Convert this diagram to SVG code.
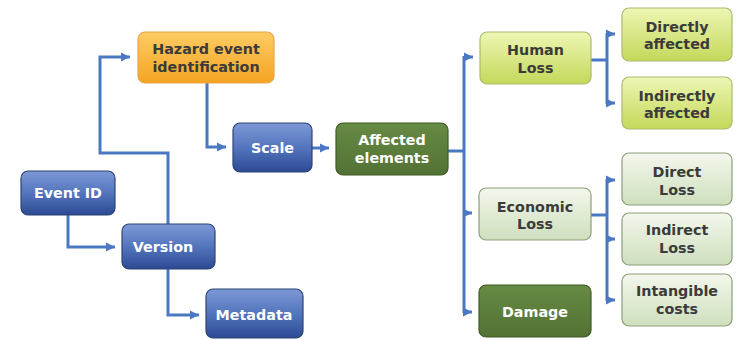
<svg xmlns="http://www.w3.org/2000/svg" width="737" height="340" viewBox="0 0 737 340">
<defs>
<linearGradient id="gBlue" x1="0" y1="0" x2="0" y2="1"><stop offset="0" stop-color="#7d98d5"/><stop offset="0.5" stop-color="#5475bd"/><stop offset="1" stop-color="#2c4a93"/></linearGradient>
<linearGradient id="gOrange" x1="0" y1="0" x2="0" y2="1"><stop offset="0" stop-color="#fdcb62"/><stop offset="1" stop-color="#f5a424"/></linearGradient>
<linearGradient id="gDark" x1="0" y1="0" x2="0" y2="1"><stop offset="0" stop-color="#678a44"/><stop offset="1" stop-color="#527234"/></linearGradient>
<linearGradient id="gYel" x1="0" y1="0" x2="0" y2="1"><stop offset="0" stop-color="#eef6b4"/><stop offset="1" stop-color="#c4d85a"/></linearGradient>
<linearGradient id="gPale" x1="0" y1="0" x2="0" y2="1"><stop offset="0" stop-color="#f3f7ec"/><stop offset="1" stop-color="#cfdfbd"/></linearGradient>
<marker id="arr" markerWidth="10" markerHeight="10" refX="9" refY="5" orient="auto" markerUnits="userSpaceOnUse"><path d="M0,0.5 L9,5 L0,9.5 Z" fill="#4a78c2"/></marker>
</defs>
<style>
.blue{fill:url(#gBlue);stroke:#2d4375;stroke-width:1.2}
.orange{fill:url(#gOrange);stroke:#e7a448;stroke-width:1.2}
.dark{fill:url(#gDark);stroke:#3e5a27;stroke-width:1.2}
.yel{fill:url(#gYel);stroke:#a9bb6c;stroke-width:1.2}
.pale{fill:url(#gPale);stroke:#8c9f7a;stroke-width:1.2}
text{font-family:"DejaVu Sans",Verdana,sans-serif;font-weight:bold;font-size:14.3px;text-anchor:middle}
.w{fill:#ffffff}
.k{fill:#3b3b3b}
.c{fill:none;stroke:#4a78c2;stroke-width:3}
</style>
<g id="connectors">
<path class="c" d="M168,224 V153 H100 V57 H130" marker-end="url(#arr)"/>
<path class="c" d="M207,83 V147 H226" marker-end="url(#arr)"/>
<path class="c" d="M68,215 V247 H115" marker-end="url(#arr)"/>
<path class="c" d="M168,269 V315 H199" marker-end="url(#arr)"/>
<path class="c" d="M312,148 H329" marker-end="url(#arr)"/>
<path class="c" d="M448,151 H464"/>
<path class="c" d="M464,57 H473" marker-end="url(#arr)"/>
<path class="c" d="M464,56 V313"/>
<path class="c" d="M464,213 H472" marker-end="url(#arr)"/>
<path class="c" d="M464,312 H472" marker-end="url(#arr)"/>
<path class="c" d="M591,60 H607"/>
<path class="c" d="M607,33 V104"/>
<path class="c" d="M607,34 H615" marker-end="url(#arr)"/>
<path class="c" d="M607,103 H615" marker-end="url(#arr)"/>
<path class="c" d="M591,215 H607"/>
<path class="c" d="M607,179 V301"/>
<path class="c" d="M607,180 H615" marker-end="url(#arr)"/>
<path class="c" d="M607,239 H615" marker-end="url(#arr)"/>
<path class="c" d="M607,300 H615" marker-end="url(#arr)"/>
</g>
<g id="hazard"><rect class="orange" x="138" y="32" width="136" height="51" rx="7"/><text class="k" x="206" y="54">Hazard event</text><text class="k" x="206" y="72">identification</text></g>
<g id="scale"><rect class="blue" x="233" y="123" width="79" height="49" rx="7"/><text class="w" x="272.5" y="153">Scale</text></g>
<g id="eventid"><rect class="blue" x="21" y="171" width="94" height="44" rx="7"/><text class="w" x="68" y="198">Event ID</text></g>
<g id="version"><rect class="blue" x="122" y="224" width="93" height="45" rx="7"/><text class="w" x="163" y="252">Version</text></g>
<g id="metadata"><rect class="blue" x="206" y="289" width="97" height="49" rx="7"/><text class="w" x="254" y="320">Metadata</text></g>
<g id="affected"><rect class="dark" x="336" y="123" width="112" height="52" rx="7"/><text class="w" x="392" y="145">Affected</text><text class="w" x="392" y="163">elements</text></g>
<g id="human"><rect class="yel" x="480" y="32" width="111" height="52" rx="7"/><text class="k" x="535.5" y="55">Human</text><text class="k" x="535.5" y="73">Loss</text></g>
<g id="economic"><rect class="pale" x="479" y="188" width="112" height="52" rx="7"/><text class="k" x="535" y="212">Economic</text><text class="k" x="535" y="229">Loss</text></g>
<g id="damage"><rect class="dark" x="479" y="285" width="112" height="52" rx="7"/><text class="w" x="535" y="317">Damage</text></g>
<g id="directly"><rect class="yel" x="622" y="8" width="110" height="53" rx="7"/><text class="k" x="677" y="32">Directly</text><text class="k" x="677" y="49">affected</text></g>
<g id="indirectly"><rect class="yel" x="622" y="77" width="110" height="52" rx="7"/><text class="k" x="677" y="101">Indirectly</text><text class="k" x="677" y="118">affected</text></g>
<g id="directloss"><rect class="pale" x="622" y="153" width="110" height="52" rx="7"/><text class="k" x="677" y="177">Direct</text><text class="k" x="677" y="195">Loss</text></g>
<g id="indirectloss"><rect class="pale" x="622" y="213" width="110" height="52" rx="7"/><text class="k" x="677" y="235">Indirect</text><text class="k" x="677" y="253">Loss</text></g>
<g id="intangible"><rect class="pale" x="622" y="274" width="110" height="52" rx="7"/><text class="k" x="677" y="296">Intangible</text><text class="k" x="677" y="314">costs</text></g>
</svg>
